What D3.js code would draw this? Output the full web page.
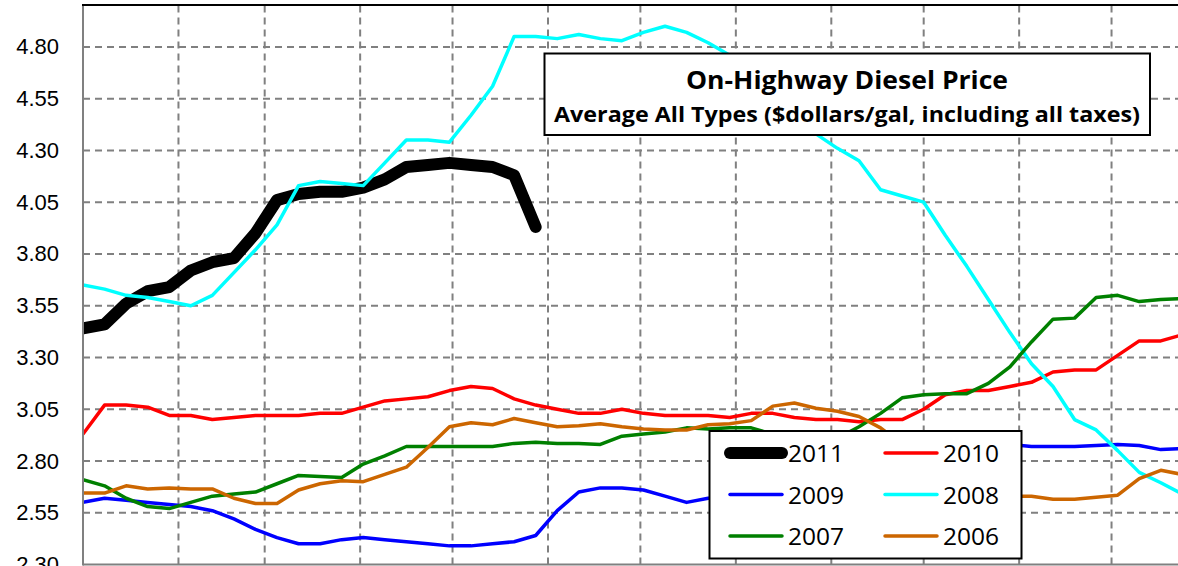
<!DOCTYPE html>
<html>
<head>
<meta charset="utf-8">
<script src="https://d3js.org/d3.v7.min.js"></script>
<style>
  body { margin: 0; background: #fff; overflow: hidden; }
  svg { display: block; }
</style>
</head>
<body>
<div id="chart"></div>
<script>
// weekly prices, week 0 = first week of January
var years = ["2011", "2010", "2009", "2008", "2007", "2006"];

var y2011 = [3.44, 3.46, 3.56, 3.62, 3.64, 3.72, 3.76, 3.78, 3.90, 4.06, 4.09, 4.10, 4.10, 4.12, 4.16, 4.22,
             4.23, 4.24, 4.23, 4.22, 4.18, 3.93];
var y2010 = [2.93, 3.07, 3.07, 3.06, 3.02, 3.02, 3.00, 3.01, 3.02, 3.02, 3.02, 3.03, 3.03, 3.06, 3.09, 3.10,
             3.11, 3.14, 3.16, 3.15, 3.10, 3.07, 3.05, 3.03, 3.03, 3.05, 3.03, 3.02, 3.02, 3.02, 3.01, 3.03,
             3.03, 3.01, 3.00, 3.00, 2.99, 3.00, 3.00, 3.05, 3.12, 3.14, 3.14, 3.16, 3.18, 3.23, 3.24, 3.24,
             3.31, 3.38, 3.38, 3.41];
var y2009 = [2.60, 2.62, 2.61, 2.60, 2.59, 2.58, 2.56, 2.52, 2.47, 2.43, 2.40, 2.40, 2.42, 2.43, 2.42, 2.41,
             2.40, 2.39, 2.39, 2.40, 2.41, 2.44, 2.56, 2.65, 2.67, 2.67, 2.66, 2.63, 2.60, 2.62, 2.63, 2.64,
             2.65, 2.64, 2.63, 2.63, 2.65, 2.70, 2.75, 2.78, 2.80, 2.84, 2.87, 2.88, 2.87, 2.87, 2.87, 2.875,
             2.88, 2.875, 2.855, 2.86];
var y2008 = [3.65, 3.63, 3.60, 3.59, 3.57, 3.55, 3.60, 3.71, 3.82, 3.94, 4.13, 4.15, 4.14, 4.13, 4.24, 4.35,
             4.35, 4.34, 4.47, 4.61, 4.85, 4.85, 4.84, 4.86, 4.84, 4.83, 4.87, 4.90, 4.87, 4.82, 4.76, 4.66,
             4.56, 4.46, 4.38, 4.31, 4.25, 4.11, 4.08, 4.05, 3.89, 3.74, 3.58, 3.42, 3.27, 3.16, 3.00, 2.95,
             2.85, 2.745, 2.695, 2.64];
var y2007 = [2.71, 2.68, 2.62, 2.58, 2.57, 2.60, 2.63, 2.64, 2.65, 2.69, 2.73, 2.725, 2.72, 2.785, 2.825, 2.87,
             2.87, 2.87, 2.87, 2.87, 2.885, 2.89, 2.885, 2.885, 2.88, 2.92, 2.93, 2.94, 2.96, 2.955, 2.96, 2.96,
             2.93, 2.92, 2.90, 2.91, 2.965, 3.03, 3.105, 3.12, 3.125, 3.125, 3.175, 3.255, 3.375, 3.485, 3.49, 3.59,
             3.60, 3.57, 3.58, 3.585];
var y2006 = [2.645, 2.645, 2.68, 2.665, 2.67, 2.665, 2.665, 2.62, 2.595, 2.595, 2.66, 2.69, 2.705, 2.70, 2.735, 2.77,
             2.865, 2.965, 2.985, 2.975, 3.005, 2.985, 2.965, 2.97, 2.98, 2.965, 2.955, 2.95, 2.95, 2.975, 2.98, 2.995,
             3.065, 3.08, 3.055, 3.04, 3.015, 2.96, 2.88, 2.79, 2.71, 2.66, 2.63, 2.63, 2.63, 2.615, 2.615, 2.625,
             2.635, 2.715, 2.755, 2.735];

var yTicks = [2.30, 2.55, 2.80, 3.05, 3.30, 3.55, 3.80, 4.05, 4.30, 4.55, 4.80];
var monthDays = [31, 28, 31, 30, 31, 30, 31, 31, 30, 31, 30, 31];

var seriesValues = [y2011, y2010, y2009, y2008, y2007, y2006];
var colors = ["#000000", "#ff0000", "#0000ff", "#00ffff", "#008000", "#cc6600"];
var widths = [12, 3.5, 3.5, 3.5, 3.5, 3.5];

// note: "top" is taken by window.top, so plot edges get their own names
var W = 1178, H = 566,
    plotL = 83, plotR = 1207, plotT = 5.5, plotB = 564.5;

var svg = d3.select("#chart").append("svg")
    .attr("width", W)
    .attr("height", H);

var x = d3.scaleLinear().domain([0, 365]).range([plotL, plotR]);
var y = d3.scaleLinear().domain([2.30, 5.00]).range([plotB, plotT]);

svg.append("clipPath").attr("id", "plotclip")
  .append("rect")
    .attr("x", plotL).attr("y", plotT)
    .attr("width", plotR - plotL).attr("height", plotB - plotT);

// month boundaries
var monthStarts = [];
var acc = 0;
monthDays.forEach(function(d) { acc += d; monthStarts.push(acc); });
monthStarts.pop();

var grid = svg.append("g").attr("class", "grid")
    .attr("stroke", "#808080")
    .attr("stroke-width", 2)
    .attr("stroke-dasharray", "7,5");

grid.selectAll("line.h")
    .data(yTicks.filter(function(d) { return d > 2.30; }))
    .enter().append("line")
    .attr("class", "h")
    .attr("x1", plotL).attr("x2", plotR)
    .attr("y1", function(d) { return y(d); })
    .attr("y2", function(d) { return y(d); });

grid.selectAll("line.v")
    .data(monthStarts)
    .enter().append("line")
    .attr("class", "v")
    .attr("y1", plotT).attr("y2", plotB)
    .attr("x1", function(d) { return x(d); })
    .attr("x2", function(d) { return x(d); });

// y axis labels
var yAxis = d3.axisLeft(y)
    .tickValues(yTicks)
    .tickFormat(d3.format(".2f"))
    .tickSize(0)
    .tickPadding(24);

var yg = svg.append("g")
    .attr("transform", "translate(" + plotL + ",0)")
    .call(yAxis);
yg.select(".domain").remove();
yg.selectAll("text")
    .style("font-family", "'Liberation Sans', Arial, sans-serif")
    .style("font-size", "22px")
    .attr("fill", "#000");

// series, later years drawn on top like the source
var line = d3.line()
    .x(function(d, i) { return x(i * 7); })
    .y(function(d) { return y(d); });

var lines = svg.append("g").attr("clip-path", "url(#plotclip)");
seriesValues.forEach(function(vals, k) {
    lines.append("path")
        .datum(vals)
        .attr("d", line)
        .attr("fill", "none")
        .attr("stroke", colors[k])
        .attr("stroke-width", widths[k])
        .attr("stroke-linejoin", "round")
        .attr("stroke-linecap", "round");
});

// axis lines and top border
svg.append("line")
    .attr("x1", plotL).attr("x2", plotL).attr("y1", plotT - 1).attr("y2", plotB + 1)
    .attr("stroke", "#808080").attr("stroke-width", 2);
svg.append("line")
    .attr("x1", plotL).attr("x2", plotR).attr("y1", plotB).attr("y2", plotB)
    .attr("stroke", "#808080").attr("stroke-width", 2);
svg.append("line")
    .attr("x1", plotL - 1).attr("x2", plotR).attr("y1", 5).attr("y2", 5)
    .attr("stroke", "#000").attr("stroke-width", 2);

// title box
var tb = svg.append("g");
tb.append("rect")
    .attr("x", 544.5).attr("y", 53.5)
    .attr("width", 605.5).attr("height", 81.5)
    .attr("fill", "#fff").attr("stroke", "#000").attr("stroke-width", 2);
tb.append("text")
    .attr("x", 847).attr("y", 89)
    .attr("text-anchor", "middle")
    .attr("textLength", 322)
    .attr("lengthAdjust", "spacingAndGlyphs")
    .style("font-family", "'Open Sans', sans-serif")
    .style("font-weight", "bold")
    .style("font-size", "25px")
    .text("On-Highway Diesel Price");
tb.append("text")
    .attr("x", 847).attr("y", 122)
    .attr("text-anchor", "middle")
    .attr("textLength", 586)
    .attr("lengthAdjust", "spacingAndGlyphs")
    .style("font-family", "'Open Sans', sans-serif")
    .style("font-weight", "bold")
    .style("font-size", "21px")
    .text("Average All Types ($dollars/gal, including all taxes)");

// legend
var legend = svg.append("g");
legend.append("rect")
    .attr("x", 709.5).attr("y", 431)
    .attr("width", 312).attr("height", 127.5)
    .attr("fill", "#fff").attr("stroke", "#000").attr("stroke-width", 2);

var rowY = [453, 494.5, 536],
    colX = [730, 885];

var item = legend.selectAll("g.item")
    .data(years)
    .enter().append("g")
    .attr("class", "item")
    .attr("transform", function(d, i) {
        return "translate(" + colX[i % 2] + "," + rowY[Math.floor(i / 2)] + ")";
    });

item.append("line")
    .attr("x1", 0).attr("x2", 52)
    .attr("stroke", function(d, i) { return colors[i]; })
    .attr("stroke-width", function(d, i) { return widths[i]; })
    .attr("stroke-linecap", "round");

item.append("text")
    .attr("x", 58)
    .attr("y", 9)
    .style("font-family", "'Open Sans', sans-serif")
    .style("font-size", "24.5px")
    .text(function(d) { return d; });
</script>
</body>
</html>
